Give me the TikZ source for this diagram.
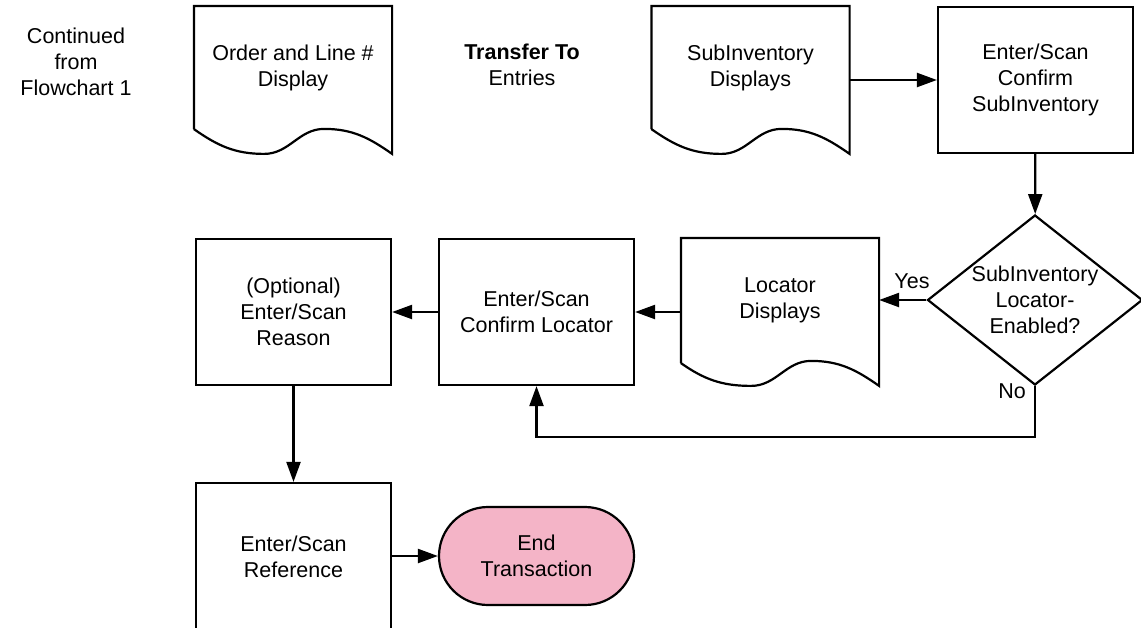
\documentclass[tikz,border=0pt]{standalone}
\usepackage{fontspec}
\setmainfont{Liberation Sans}
\usepackage{tikz}
\usetikzlibrary{arrows.meta,positioning,shapes,shapes.geometric,shapes.misc}
\definecolor{endpink}{RGB}{244,180,199}

\begin{document}
\begin{tikzpicture}[x=1pt,y=1pt,line width=2.2pt,
    every node/.style={font=\fontsize{21.5}{26}\selectfont,align=center},
    procbox/.style={draw,rectangle,minimum width=195,minimum height=146,inner sep=0},
    docbox/.style={rectangle,minimum width=196,minimum height=121,inner sep=0},
    decision/.style={draw,diamond,minimum width=215,minimum height=170,inner sep=0},
    endbox/.style={draw,rounded rectangle,fill=endpink,minimum width=195,minimum height=98,inner sep=0},
    flow/.style={-{Triangle[length=20pt,width=14pt]}}]
    \useasboundingbox (0,0) rectangle (1141,-627);
    \clip (0,0) rectangle (1141,-627);

    \node (cont) at (76,-62) {Continued\\from\\Flowchart 1};
    \node[docbox] (ordr) at (293,-67.5) {Order and Line \#\\Display};
    \node (xfer) at (522,-65) {\textbf{Transfer To}\\Entries};
    \node[docbox] (subd) at (750.5,-67.5) {SubInventory\\Displays};
    \node[procbox] (subc) at (1035.5,-80) {Enter/Scan\\Confirm\\SubInventory};

    \node[decision,label={[align=center]center:SubInventory\\Locator-\\Enabled?}] (dec) at (1035,-300) {};
    \node[docbox,minimum height=123] (locd) at (780,-300.5) {Locator\\Displays};
    \node[procbox] (locc) at (536.5,-312) {Enter/Scan\\Confirm Locator};
    \node[procbox] (rsn) at (293.5,-312) {(Optional)\\Enter/Scan\\Reason};

    \node[procbox,minimum height=148] (ref) at (293.5,-557) {Enter/Scan\\Reference};
    \node[endbox] (fin) at (536.5,-556) {End\\Transaction};

    \node (yes) at (912,-281) {Yes};
    \node (no) at (1012,-391) {No};

    % document outlines with wavy bottom
    \foreach \d in {ordr,subd,locd}
        \draw (\d.south west) -- (\d.north west) -- (\d.north east) -- ++(0,-148)
            to[out=145,in=0] ++(-68,25) to[out=180,in=0] ++(-60,-25) to[out=180,in=-35] (\d.south west);

    \draw[flow] (subd.east |- subc.west) -- (subc.west);
    \draw[flow] (subc) -- (dec);
    \draw[flow] (dec.west) -- (dec.west -| locd.east);
    \draw[flow] (locc.east -| locd.west) -- (locc.east);
    \draw[flow] (locc) -- (rsn);
    \draw[flow] (rsn) -- (ref);
    \draw[flow] (ref.east |- fin.west) -- (fin.west);
    \draw[flow] (dec.south) -- ++(0,-51) -| (locc.south);
\end{tikzpicture}
\end{document}
